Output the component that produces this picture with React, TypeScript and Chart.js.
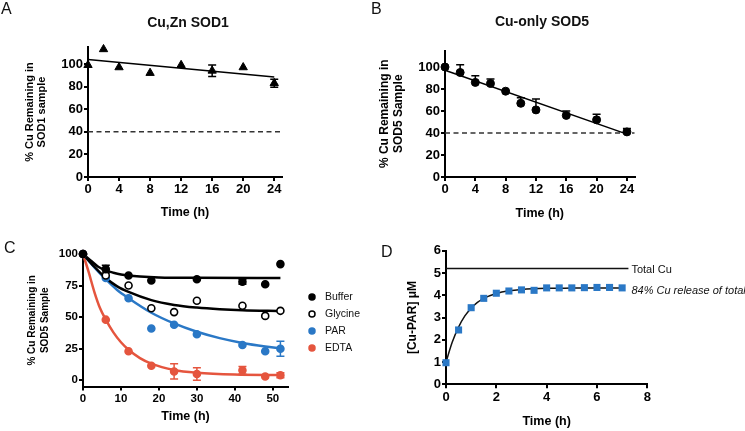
import React, { useEffect, useRef } from "react";
import { Chart, registerables } from "chart.js";
Chart.register(...registerables);

const FONT = "'Liberation Sans', Arial, Helvetica, sans-serif";
const BLUE = "#2a78c6";
const RED = "#e5553e";

// ---------- Panel A : Cu,Zn SOD1 ----------
const timeA = [0, 2, 4, 8, 12, 16, 20, 24];
const sod1Pct = [99, 113, 97, 92, 99, 94, 97, 83];
const sod1Err = [0, 0, 0, 0, 0, 5, 0, 3.5];
const sod1FitX = [0, 24];
const sod1FitY = [104, 88.5];

// ---------- Panel B : Cu-only SOD5 ----------
const timeB = [0, 2, 4, 6, 8, 10, 12, 16, 20, 24];
const sod5Pct = [100, 95, 86, 85, 78, 67, 61, 56, 52, 41];
const sod5ErrUp = [0, 7, 6, 4, 0, 5, 10, 4, 5, 3];
const sod5FitX = [0, 24];
const sod5FitY = [97, 39];

const thresholdPct = 40;
const yTicksAB = [0, 20, 40, 60, 80, 100];
const xTicksAB = [0, 4, 8, 12, 16, 20, 24];

// ---------- Panel C : SOD5 with chelators ----------
const timeC = [0, 6, 12, 18, 24, 30, 42, 48, 52];
const bufferPct = [100, 88, 83, 79, null, 80, 78, 76, 92];
const bufferErr = [0, 3, 0, 0, 0, 0, 2, 0, 0];
const glycinePct = [100, 83, 75, 57, 54, 63, 59, 51, 55];
const parPct = [100, 81, 65, 41, 44, 36.5, 28, 23, 25];
const parErr = [0, 0, 0, 0, 0, 0, 0, 0, 6];
const edtaPct = [100, 48, 23, 11.5, 7, 5, 8, 3, 4];
const edtaErr = [0, 0, 0, 0, 6, 5, 3, 0, 2];

const bufferFitX = [0, 2, 4, 6, 8, 10, 12, 15, 20, 30, 52];
const bufferFitY = [100, 94.9, 89.9, 87, 85.2, 83.8, 82.9, 82.1, 81.4, 81.1, 81];
const glycineFitX = [0, 3, 6, 9, 12, 18, 24, 30, 36, 42, 52];
const glycineFitY = [100, 89.9, 81, 74.4, 70, 63.5, 59.7, 57.6, 56.3, 55.5, 54.9];
const parFitX = [0, 3, 6, 9, 12, 18, 24, 30, 36, 42, 48, 52];
const parFitY = [100, 89.4, 80, 71.5, 65, 53.5, 45, 38.4, 33.4, 29.6, 26.8, 25.3];
const edtaFitX = [0, 1.5, 3, 4.5, 6, 8, 10, 12, 15, 18, 24, 30, 40, 52];
const edtaFitY = [100, 85.6, 69.9, 57, 48, 37.9, 30.1, 24.2, 17.6, 13.2, 8.2, 6, 4.5, 4.1];

const yTicksC = [0, 25, 50, 75, 100];
const xTicksC = [0, 10, 20, 30, 40, 50];

// ---------- Panel D : Cu-PAR release ----------
const timeD = [0, 0.5, 1, 1.5, 2, 2.5, 3, 3.5, 4, 4.5, 5, 5.5, 6, 6.5, 7];
const cuParUM = [0.97, 2.44, 3.44, 3.86, 4.09, 4.19, 4.24, 4.22, 4.33, 4.33, 4.33, 4.34, 4.35, 4.35, 4.33];
const cuParFitX = [0, 0.25, 0.5, 0.75, 1, 1.25, 1.5, 2, 2.5, 3, 4, 5, 7];
const cuParFitY = [1.0, 1.9, 2.57, 3.07, 3.42, 3.68, 3.86, 4.08, 4.2, 4.26, 4.31, 4.32, 4.33];
const totalCu = 5.2;
const totalCuLineX = [0, 7.25];
const yTicksD = [0, 1, 2, 3, 4, 5, 6];
const xTicksD = [0, 2, 4, 6, 8];

const pts = (xs: number[], ys: (number | null)[]) => xs.map((x, i) => ({ x, y: ys[i] }));

type Geom = {
  cx: number; cy: number; cw: number; ch: number;
  L: number; T: number; R: number; B: number;
  yTitleX: number; xTitleY: number; yLH: number; xLH: number;
};

function layoutFor(g: Geom) {
  const axisLeft = g.yTitleX - g.yLH / 2;
  const axisBottom = g.xTitleY + g.xLH / 2;
  return {
    padding: { left: axisLeft - g.cx, top: g.T - g.cy, right: g.cx + g.cw - g.R, bottom: g.cy + g.ch - axisBottom },
    wY: g.L - axisLeft,
    hX: axisBottom - g.B,
  };
}

function makeScale(o: {
  min: number; max: number; ticks: number[]; title: string | string[];
  titleSize: number; titleLH: number; tickSize: number; fit: number; isX: boolean;
}) {
  return {
    type: "linear",
    position: o.isX ? "bottom" : "left",
    min: o.min,
    max: o.max,
    afterBuildTicks: (s: any) => { s.ticks = o.ticks.map((v) => ({ value: v })); },
    afterFit: (s: any) => { if (o.isX) s.height = o.fit; else s.width = o.fit; },
    grid: { display: true, drawOnChartArea: false, drawTicks: true, tickLength: 4, tickWidth: 2, tickColor: "#000", color: "#000", lineWidth: 2 },
    border: { display: true, color: "#000", width: 2 },
    ticks: { color: "#000", font: { family: FONT, size: o.tickSize, weight: "bold" }, padding: 1, autoSkip: false, maxRotation: 0, minRotation: 0, callback: (v: any) => String(v) },
    title: { display: true, text: o.title, color: "#000", font: { family: FONT, size: o.titleSize, weight: "bold", lineHeight: o.titleLH }, padding: 0 },
  };
}

const errorBars = {
  id: "errorBars",
  beforeDatasetsDraw(chart: any) {
    const ctx = chart.ctx;
    const ys = chart.scales.y;
    chart.data.datasets.forEach((ds: any, i: number) => {
      if (!ds.errUp && !ds.errLo) return;
      const meta = chart.getDatasetMeta(i);
      ctx.save();
      ctx.strokeStyle = ds.errColor || ds.borderColor;
      ctx.lineWidth = 1.5;
      ds.data.forEach((p: any, j: number) => {
        const u = ds.errUp ? ds.errUp[j] || 0 : 0;
        const l = ds.errLo ? ds.errLo[j] || 0 : 0;
        if ((!u && !l) || p.y == null) return;
        const x = meta.data[j].x;
        const yt = ys.getPixelForValue(p.y + u);
        const yb = ys.getPixelForValue(p.y - l);
        ctx.beginPath();
        ctx.moveTo(x, yt); ctx.lineTo(x, yb);
        if (u) { ctx.moveTo(x - 4, yt); ctx.lineTo(x + 4, yt); }
        if (l) { ctx.moveTo(x - 4, yb); ctx.lineTo(x + 4, yb); }
        ctx.stroke();
      });
      ctx.restore();
    });
  },
};

const baseOptions = (lay: any, scales: any) => ({
  responsive: false,
  animation: false,
  devicePixelRatio: 1,
  layout: { padding: lay.padding },
  plugins: { legend: { display: false }, tooltip: { enabled: false }, title: { display: false } },
  scales,
});

// ---------- geometries (page px) ----------
const gA: Geom = { cx: 0, cy: 0, cw: 370, ch: 225, L: 88, T: 47, R: 282, B: 177, yTitleX: 30, xTitleY: 213, yLH: 11 * 1.12, xLH: 12.5 * 1.2 };
const gB: Geom = { cx: 370, cy: 0, cw: 375, ch: 225, L: 445, T: 50.5, R: 634.5, B: 177, yTitleX: 385, xTitleY: 214, yLH: 12 * 1.1, xLH: 12.5 * 1.2 };
const gC: Geom = { cx: 0, cy: 225, cw: 380, ch: 206, L: 83, T: 254, R: 288, B: 386.6, yTitleX: 32, xTitleY: 417, yLH: 10 * 1.3, xLH: 12.5 * 1.2 };
const gD: Geom = { cx: 380, cy: 225, cw: 365, ch: 206, L: 446, T: 250.7, R: 647.3, B: 384.3, yTitleX: 413, xTitleY: 421.7, yLH: 12 * 1.2, xLH: 12.5 * 1.2 };

function configA() {
  const lay = layoutFor(gA);
  return {
    type: "scatter",
    data: {
      datasets: [
        { label: "SOD1", data: pts(timeA, sod1Pct), errUp: sod1Err, errLo: sod1Err, pointStyle: "triangle", pointRadius: 4.8, backgroundColor: "#000", borderColor: "#000", borderWidth: 1, clip: false },
        { label: "fit", data: pts(sod1FitX, sod1FitY), showLine: true, pointRadius: 0, borderColor: "#000", borderWidth: 1.5, clip: false },
        { label: "40%", data: pts([0, 25], [thresholdPct, thresholdPct]), showLine: true, pointRadius: 0, borderColor: "#333", borderWidth: 1.5, borderDash: [5, 3.5], clip: false },
      ],
    },
    options: baseOptions(lay, {
      x: makeScale({ min: 0, max: 25, ticks: xTicksAB, title: "Time (h)", titleSize: 12.5, titleLH: 1.2, tickSize: 13, fit: lay.hX, isX: true }),
      y: makeScale({ min: 0, max: 115, ticks: yTicksAB, title: ["% Cu Remaining in", "SOD1 sample"], titleSize: 11, titleLH: 1.12, tickSize: 13, fit: lay.wY, isX: false }),
    }),
    plugins: [errorBars],
  };
}

function configB() {
  const lay = layoutFor(gB);
  return {
    type: "scatter",
    data: {
      datasets: [
        { label: "SOD5", data: pts(timeB, sod5Pct), errUp: sod5ErrUp, pointStyle: "circle", pointRadius: 4, backgroundColor: "#000", borderColor: "#000", borderWidth: 1, clip: false },
        { label: "fit", data: pts(sod5FitX, sod5FitY), showLine: true, pointRadius: 0, borderColor: "#000", borderWidth: 1.5, clip: false },
        { label: "40%", data: pts([0, 25], [thresholdPct, thresholdPct]), showLine: true, pointRadius: 0, borderColor: "#333", borderWidth: 1.5, borderDash: [5, 3.5], clip: false },
      ],
    },
    options: baseOptions(lay, {
      x: makeScale({ min: 0, max: 25, ticks: xTicksAB, title: "Time (h)", titleSize: 12.5, titleLH: 1.2, tickSize: 13, fit: lay.hX, isX: true }),
      y: makeScale({ min: 0, max: 115, ticks: yTicksAB, title: ["% Cu Remaining in", "SOD5 Sample"], titleSize: 12, titleLH: 1.1, tickSize: 13, fit: lay.wY, isX: false }),
    }),
    plugins: [errorBars],
  };
}

function configC() {
  const lay = layoutFor(gC);
  const legendPlugin = {
    id: "cLegend",
    afterDraw(chart: any) {
      const ctx = chart.ctx;
      const items = chart.data.datasets.filter((d: any) => d.inLegend);
      ctx.save();
      ctx.font = `10.5px ${FONT}`;
      ctx.textBaseline = "middle";
      ctx.textAlign = "left";
      items.forEach((d: any, k: number) => {
        const y = 72 + k * 17;
        ctx.beginPath();
        ctx.arc(312, y, 3, 0, Math.PI * 2);
        ctx.fillStyle = d.backgroundColor;
        ctx.fill();
        ctx.lineWidth = 1.5;
        ctx.strokeStyle = d.borderColor;
        ctx.stroke();
        ctx.fillStyle = "#111";
        ctx.fillText(d.label, 325, y + 0.5);
      });
      ctx.restore();
    },
  };
  const marker = (label: string, ys: (number | null)[], bg: string, bc: string, err?: number[]) => ({
    label, inLegend: true, data: pts(timeC, ys), errUp: err, errLo: err, errColor: bc,
    pointStyle: "circle", pointRadius: 3.5, backgroundColor: bg, borderColor: bc, borderWidth: 1.6, clip: false,
  });
  const fit = (xs: number[], ys: number[], color: string) => ({
    label: "fit", data: pts(xs, ys), showLine: true, pointRadius: 0, borderColor: color, borderWidth: 2.5,
    cubicInterpolationMode: "monotone", clip: false,
  });
  return {
    type: "scatter",
    data: {
      datasets: [
        marker("Buffer", bufferPct, "#000", "#000", bufferErr),
        marker("Glycine", glycinePct, "#fff", "#000"),
        marker("PAR", parPct, BLUE, BLUE, parErr),
        marker("EDTA", edtaPct, RED, RED, edtaErr),
        fit(bufferFitX, bufferFitY, "#000"),
        fit(glycineFitX, glycineFitY, "#000"),
        fit(parFitX, parFitY, BLUE),
        fit(edtaFitX, edtaFitY, RED),
      ],
    },
    options: baseOptions(lay, {
      x: makeScale({ min: 0, max: 54, ticks: xTicksC, title: "Time (h)", titleSize: 12.5, titleLH: 1.2, tickSize: 11.5, fit: lay.hX, isX: true }),
      y: makeScale({ min: -5, max: 100, ticks: yTicksC, title: ["% Cu Remaining in", "SOD5 Sample"], titleSize: 10, titleLH: 1.3, tickSize: 11.5, fit: lay.wY, isX: false }),
    }),
    plugins: [errorBars, legendPlugin],
  };
}

function configD() {
  const lay = layoutFor(gD);
  const notes = {
    id: "dNotes",
    afterDatasetsDraw(chart: any) {
      const { ctx } = chart;
      const x = chart.scales.x;
      const y = chart.scales.y;
      const tx = x.getPixelForValue(totalCuLineX[1]) + 3;
      ctx.save();
      ctx.fillStyle = "#111";
      ctx.textAlign = "left";
      ctx.textBaseline = "middle";
      ctx.font = `11px ${FONT}`;
      ctx.fillText("Total Cu", tx, y.getPixelForValue(totalCu) + 1);
      ctx.font = `italic 11px ${FONT}`;
      ctx.fillText("84% Cu release of total", tx, y.getPixelForValue(cuParUM[cuParUM.length - 1]) + 3);
      ctx.restore();
    },
  };
  return {
    type: "scatter",
    data: {
      datasets: [
        { label: "Cu-PAR", data: pts(timeD, cuParUM), pointStyle: "rect", pointRadius: 5, backgroundColor: BLUE, borderColor: BLUE, borderWidth: 0, clip: false },
        { label: "fit", data: pts(cuParFitX, cuParFitY), showLine: true, pointRadius: 0, borderColor: "#111", borderWidth: 1.5, cubicInterpolationMode: "monotone", clip: false },
        { label: "Total Cu", data: pts(totalCuLineX, [totalCu, totalCu]), showLine: true, pointRadius: 0, borderColor: "#111", borderWidth: 1.5, clip: false },
      ],
    },
    options: baseOptions(lay, {
      x: makeScale({ min: 0, max: 8, ticks: xTicksD, title: "Time (h)", titleSize: 12.5, titleLH: 1.2, tickSize: 13, fit: lay.hX, isX: true }),
      y: makeScale({ min: 0, max: 6, ticks: yTicksD, title: "[Cu-PAR] \u03bcM", titleSize: 12, titleLH: 1.2, tickSize: 13, fit: lay.wY, isX: false }),
    }),
    plugins: [notes],
  };
}

function Panel({ g, build }: { g: Geom; build: () => any }) {
  const ref = useRef<HTMLCanvasElement | null>(null);
  useEffect(() => {
    if (!ref.current) return;
    const chart = new Chart(ref.current, build());
    return () => chart.destroy();
  }, []);
  return (
    <canvas
      ref={ref}
      width={g.cw}
      height={g.ch}
      style={{ position: "absolute", left: g.cx, top: g.cy, width: g.cw, height: g.ch }}
    />
  );
}

function Text({ x, baseline, size, children, bold, center }: any) {
  const top = baseline - 0.8465 * size;
  const style: React.CSSProperties = {
    position: "absolute",
    top,
    left: center ? x - 150 : x,
    width: center ? 300 : undefined,
    textAlign: center ? "center" : "left",
    fontFamily: FONT,
    fontSize: size,
    lineHeight: `${size}px`,
    fontWeight: bold ? "bold" : "normal",
    color: "#111",
    whiteSpace: "nowrap",
  };
  return <div style={style}>{children}</div>;
}

export default function App() {
  return (
    <div style={{ position: "fixed", left: 0, top: 0, width: 745, height: 431, background: "#fff", overflow: "hidden" }}>
      <Panel g={gA} build={configA} />
      <Panel g={gB} build={configB} />
      <Panel g={gC} build={configC} />
      <Panel g={gD} build={configD} />
      <Text x={1} baseline={15} size={16}>A</Text>
      <Text x={371} baseline={15} size={16}>B</Text>
      <Text x={4} baseline={254} size={16}>C</Text>
      <Text x={381} baseline={258} size={16}>D</Text>
      <Text x={188} baseline={27} size={14} bold center>Cu,Zn SOD1</Text>
      <Text x={542} baseline={26} size={14} bold center>Cu-only SOD5</Text>
    </div>
  );
}
